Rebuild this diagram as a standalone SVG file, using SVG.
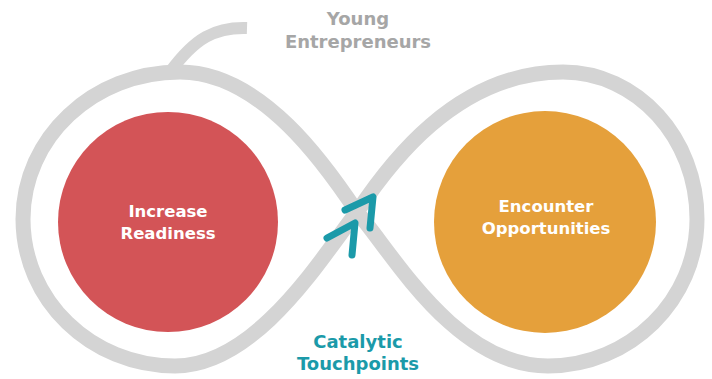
<svg xmlns="http://www.w3.org/2000/svg" width="712" height="379" viewBox="0 0 712 379">
  <style>
    .loop { fill: none; stroke: #d4d4d4; stroke-width: 15; }
    .tail { fill: none; stroke: #d4d4d4; stroke-width: 12; }
    .chev { fill: none; stroke: #1b9aa9; stroke-width: 7; stroke-linecap: round; stroke-linejoin: round; }
    .lbl { font-family: "DejaVu Sans", "Liberation Sans", sans-serif; font-weight: bold; text-anchor: middle; }
    .inner { font-size: 16.5px; fill: #ffffff; }
    .outer { font-size: 18px; }
    .gray { fill: #a6a6a6; }
    .teal { fill: #1b9aa9; }
  </style>
  <rect width="712" height="379" fill="#ffffff"/>
  <g id="connectors">
    <path class="tail" d="M247,28 C215,27 195,38 170,72"/>
    <path class="loop" d="M357,212 C387,167 455,72 563,72 C637,72 697,138 697,219 C697,300 630,366 548,366 C455,366 392,252 357,212 C327,167 262,72 180,72 C93,72 23,138 23,219 C23,300 91,366 175,366 C258,366 325,252 357,212 Z"/>
    <g id="catalytic-arrows">
      <path class="chev" d="M345,210 L373,197 L370,228"/>
      <path class="chev" d="M327,238 L355,223 L352,255"/>
    </g>
  </g>
  <g id="node-young-entrepreneurs">
    <text class="lbl outer gray" x="358" y="25">Young</text>
    <text class="lbl outer gray" x="358" y="48">Entrepreneurs</text>
  </g>
  <g id="node-increase-readiness">
    <circle cx="168" cy="222" r="110" fill="#d35457"/>
    <text class="lbl inner" x="168" y="217">Increase</text>
    <text class="lbl inner" x="168" y="239">Readiness</text>
  </g>
  <g id="node-encounter-opportunities">
    <circle cx="545" cy="222" r="111" fill="#e5a03b"/>
    <text class="lbl inner" x="546" y="212">Encounter</text>
    <text class="lbl inner" x="546" y="234">Opportunities</text>
  </g>
  <g id="node-catalytic-touchpoints">
    <text class="lbl outer teal" x="358" y="348">Catalytic</text>
    <text class="lbl outer teal" x="358" y="370">Touchpoints</text>
  </g>
</svg>
